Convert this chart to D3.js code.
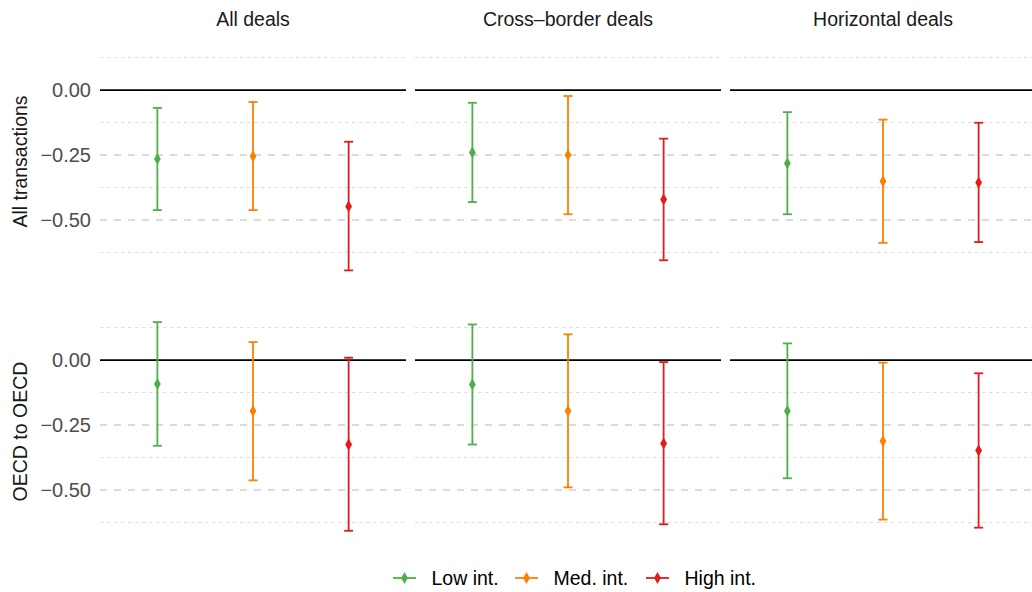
<!DOCTYPE html>
<html>
<head>
<meta charset="utf-8">
<script src="https://cdn.jsdelivr.net/npm/d3@7"></script>
<style>
  body { margin: 0; background: #fff; }
  svg { display: block; font-family: "Liberation Sans", Arial, sans-serif; }
</style>
</head>
<body>
<svg width="1032" height="592"></svg>
<script>
// facets and groups
const rowNames = ["All transactions", "OECD to OECD"];
const colNames = ["All deals", "Cross\u2013border deals", "Horizontal deals"];
const groups = ["Low int.", "Med. int.", "High int."];
const yTicks = [0, -0.25, -0.5];
const yMinor = [0.125, -0.125, -0.375, -0.625];

// point estimates [column][group]
const estAll  = [[-0.265, -0.255, -0.448], [-0.240, -0.250, -0.421], [-0.282, -0.351, -0.356]];
const lowAll  = [[-0.462, -0.462, -0.694], [-0.431, -0.478, -0.655], [-0.478, -0.588, -0.585]];
const highAll = [[-0.069, -0.046, -0.199], [-0.049, -0.023, -0.187], [-0.085, -0.114, -0.126]];

const estOecd  = [[-0.092, -0.196, -0.325], [-0.094, -0.196, -0.321], [-0.196, -0.312, -0.348]];
const lowOecd  = [[-0.330, -0.463, -0.657], [-0.325, -0.490, -0.632], [-0.455, -0.614, -0.645]];
const highOecd = [[0.146, 0.069, 0.009], [0.137, 0.099, -0.008], [0.064, -0.010, -0.051]];

const colors = d3.scaleOrdinal().domain(groups).range(["#4daf4a", "#ff7f00", "#e41a1c"]);

const svg = d3.select("svg");

// panel geometry
const panelW = 306, gap = 9, left = 100;
const rowTops = [40, 310], panelH = 243;

const x = d3.scalePoint().domain(groups).range([0, panelW]).padding(0.6);
const yDomain = [-0.7425, 0.1925];

const rows = [
  {est: estAll, low: lowAll, high: highAll},
  {est: estOecd, low: lowOecd, high: highOecd}
];

const diamond = d3.symbol().type(d3.symbolDiamond).size(40);

rows.forEach((r, ri) => {
  const y = d3.scaleLinear().domain(yDomain).range([rowTops[ri] + panelH, rowTops[ri]]);

  // y tick labels
  yTicks.forEach(t => {
    svg.append("text")
      .attr("x", 91).attr("y", y(t) + 7)
      .attr("text-anchor", "end")
      .attr("font-size", 20)
      .attr("fill", "#4d4d4d")
      .text(d3.format(".2f")(t).replace("-", "\u2212"));
  });

  // row title
  svg.append("text")
    .attr("transform", "translate(27," + (rowTops[ri] + panelH / 2) + ") rotate(-90)")
    .attr("text-anchor", "middle")
    .attr("font-size", 19.5)
    .attr("fill", "#1a1a1a")
    .text(rowNames[ri]);

  colNames.forEach((cn, ci) => {
    const x0 = left + ci * (panelW + gap);
    const g = svg.append("g").attr("transform", "translate(" + x0 + ",0)");

    g.selectAll(".minor").data(yMinor).enter().append("line")
      .attr("x1", 0).attr("x2", panelW)
      .attr("y1", d => y(d)).attr("y2", d => y(d))
      .attr("stroke", "#dedede").attr("stroke-width", 1)
      .attr("stroke-dasharray", "3.5,3.5");

    g.selectAll(".major").data(yTicks.filter(t => t !== 0)).enter().append("line")
      .attr("x1", 0).attr("x2", panelW)
      .attr("y1", d => y(d)).attr("y2", d => y(d))
      .attr("stroke", "#cfcfcf").attr("stroke-width", 1.4)
      .attr("stroke-dasharray", "7,7");

    // zero line
    g.append("line")
      .attr("x1", 0).attr("x2", panelW)
      .attr("y1", y(0)).attr("y2", y(0))
      .attr("stroke", "#000").attr("stroke-width", 1.8);

    if (ri === 0) {
      svg.append("text")
        .attr("x", x0 + panelW / 2).attr("y", 26)
        .attr("text-anchor", "middle")
        .attr("font-size", 19.5)
        .attr("fill", "#1a1a1a")
        .text(cn);
    }

    groups.forEach((gr, gi) => {
      const cx = x(gr);
      const c = colors(gr);
      const lo = r.low[ci][gi], hi = r.high[ci][gi], est = r.est[ci][gi];
      g.append("line")
        .attr("x1", cx).attr("x2", cx)
        .attr("y1", y(lo)).attr("y2", y(hi))
        .attr("stroke", c).attr("stroke-width", 1.8);
      [lo, hi].forEach(v => {
        g.append("line")
          .attr("x1", cx - 4.5).attr("x2", cx + 4.5)
          .attr("y1", y(v)).attr("y2", y(v))
          .attr("stroke", c).attr("stroke-width", 1.8);
      });
      g.append("path")
        .attr("d", diamond)
        .attr("transform", "translate(" + cx + "," + y(est) + ")")
        .attr("fill", c);
    });
  });
});

// legend
const legendX = [393, 515, 646];
groups.forEach((gr, i) => {
  const lg = svg.append("g").attr("transform", "translate(" + legendX[i] + ",578)");
  lg.append("line").attr("x1", 0).attr("x2", 23).attr("y1", 0).attr("y2", 0)
    .attr("stroke", colors(gr)).attr("stroke-width", 1.8);
  lg.append("path").attr("d", diamond).attr("transform", "translate(11.5,0)").attr("fill", colors(gr));
  lg.append("text").attr("x", 38.5).attr("y", 7)
    .attr("font-size", 19.5).attr("fill", "#000")
    .text(gr);
});
</script>
</body>
</html>
